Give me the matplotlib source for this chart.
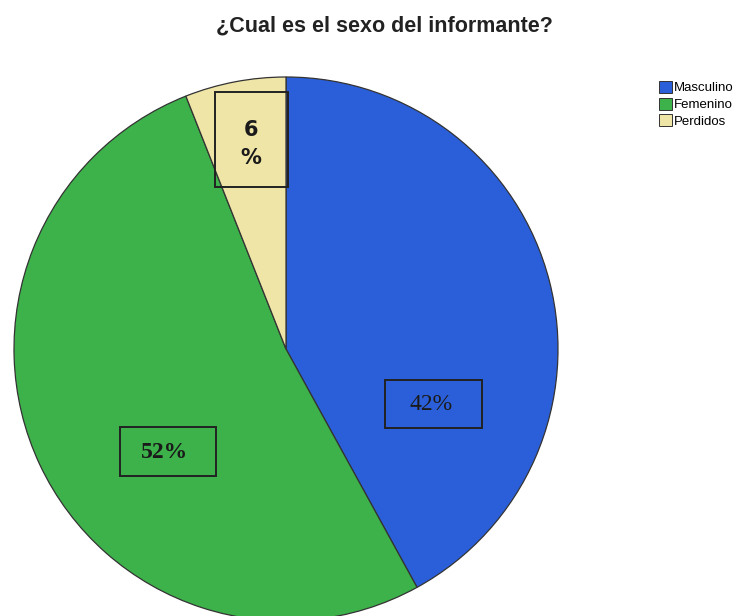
import matplotlib.pyplot as plt
from matplotlib.patches import Patch, Rectangle

labels = ["Masculino", "Femenino", "Perdidos"]
values = [42, 52, 6]
label_text = ["42%", "52%", "6\n%"]
colors = ["#2b5fd9", "#3db24a", "#efe5a6"]

W, H = 743, 616
fig = plt.figure(figsize=(W / 100, H / 100), dpi=100)
fig.patch.set_facecolor("white")

# pie bounding box in pixels: x 14..558, y 77..621
ax = fig.add_axes([14 / W, (H - 621) / H, 544 / W, 544 / H])
ax.pie(values, colors=colors, startangle=90, counterclock=False,
       wedgeprops=dict(edgecolor="#333333", linewidth=0.9))
ax.set_xlim(-1, 1)
ax.set_ylim(-1, 1)
ax.set_aspect("equal")
ax.axis("off")

def px(x, y):
    return x / W, 1 - y / H

def box(x0, y0, x1, y1):
    fig.add_artist(Rectangle(px(x0, y1), (x1 - x0) / W, (y1 - y0) / H,
                             transform=fig.transFigure, fill=False,
                             ec="#222222", lw=1.4))

# labels in boxes
box(385, 380, 482, 428)
fig.text(*px(431, 405), label_text[0], ha="center", va="center",
         fontsize=17, family="Liberation Serif", color="#1a1a1a")
box(120, 427, 216, 476)
fig.text(*px(165, 452), label_text[1], ha="center", va="center",
         fontsize=17, family="Liberation Serif", fontweight="bold", color="#1a1a1a")
box(215, 92, 288, 187)
fig.text(*px(251, 144), label_text[2], ha="center", va="center",
         fontsize=15, fontweight="bold", color="#1a1a1a", linespacing=1.55)

fig.text(*px(384, 26), "¿Cual es el sexo del informante?", ha="center", va="center",
         fontsize=15.5, fontweight="bold", family="Liberation Sans", color="#222222")

handles = [Patch(facecolor=c, edgecolor="#333333", linewidth=0.7) for c in colors]
fig.legend(handles, labels, loc="upper left", bbox_to_anchor=px(659, 81),
           frameon=False, handlelength=1.0, handleheight=1.0,
           handletextpad=0.15, labelspacing=0.25, borderpad=0, borderaxespad=0,
           prop=dict(family="Liberation Sans", size=9.5))

fig.savefig("out.png", dpi=100)
